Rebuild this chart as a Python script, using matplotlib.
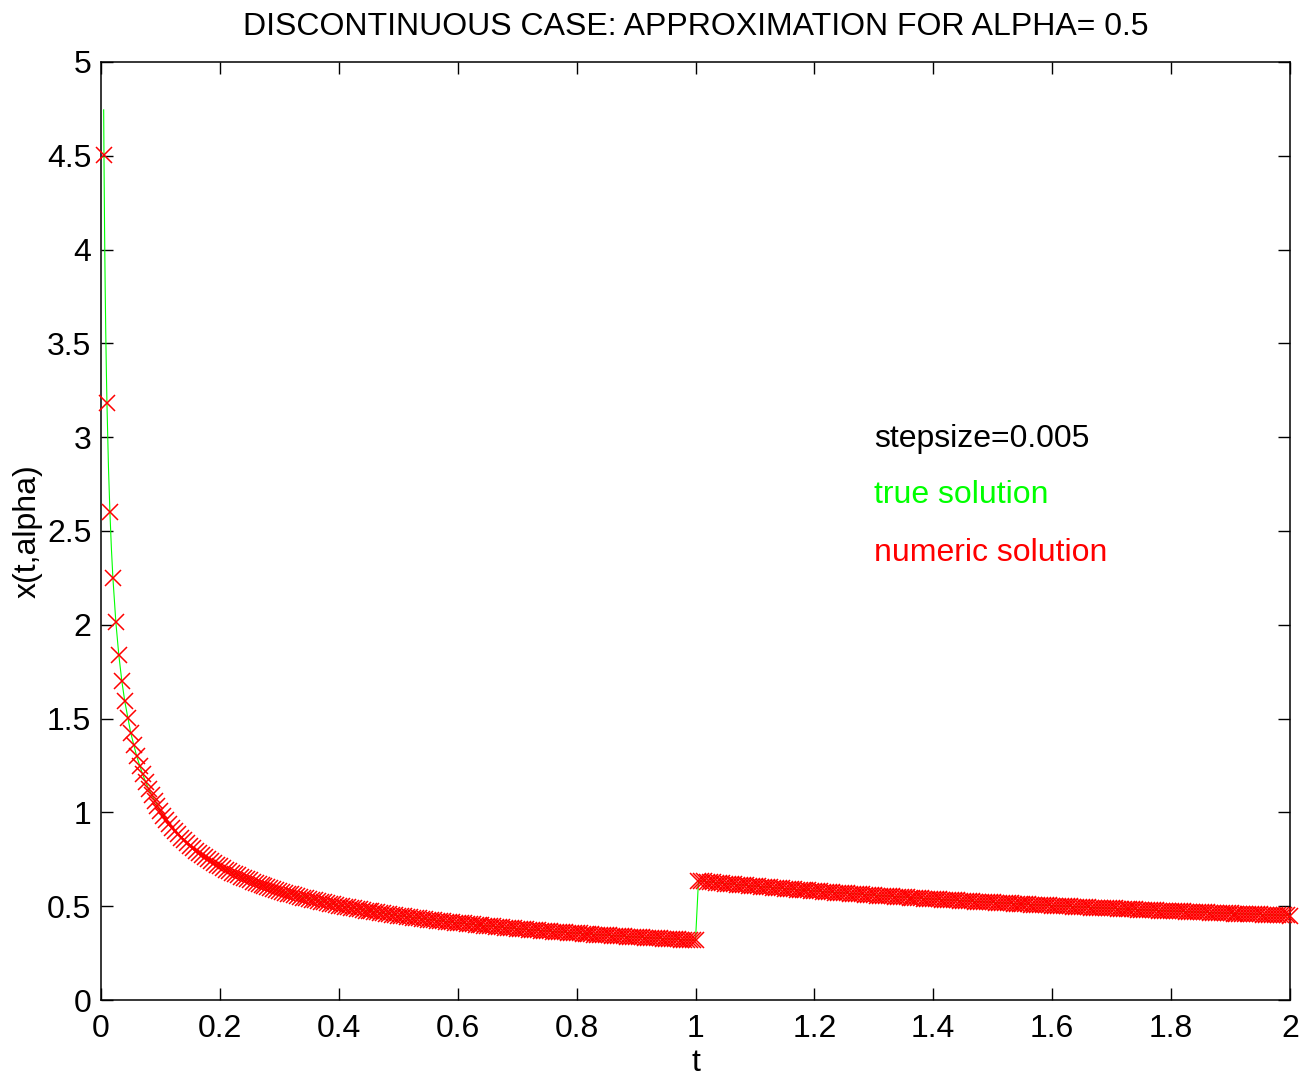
import numpy as np
import matplotlib
matplotlib.use("Agg")
import matplotlib.pyplot as plt

plt.rcParams['font.family'] = ['Liberation Sans', 'DejaVu Sans']

# ---- data ----
stepsize = 0.005
numeric_x = [
    4.502, 3.183, 2.599, 2.251, 2.013, 1.838, 1.701, 1.592, 1.501, 1.424,
    1.357, 1.300, 1.249, 1.203, 1.162, 1.125, 1.092, 1.061, 1.033, 1.007,
    0.982, 0.960, 0.939, 0.919, 0.900, 0.883, 0.866, 0.851, 0.836, 0.822,
    0.809, 0.796, 0.784, 0.772, 0.761, 0.750, 0.740, 0.730, 0.721, 0.712,
    0.703, 0.695, 0.686, 0.679, 0.671, 0.664, 0.657, 0.650, 0.643, 0.637,
    0.630, 0.624, 0.618, 0.613, 0.607, 0.602, 0.596, 0.591, 0.586, 0.581,
    0.576, 0.572, 0.567, 0.563, 0.558, 0.554, 0.550, 0.546, 0.542, 0.538,
    0.534, 0.531, 0.527, 0.523, 0.520, 0.516, 0.513, 0.510, 0.506, 0.503,
    0.500, 0.497, 0.494, 0.491, 0.488, 0.485, 0.483, 0.480, 0.477, 0.475,
    0.472, 0.469, 0.467, 0.464, 0.462, 0.459, 0.457, 0.455, 0.452, 0.450,
    0.448, 0.446, 0.444, 0.441, 0.439, 0.437, 0.435, 0.433, 0.431, 0.429,
    0.427, 0.425, 0.423, 0.422, 0.420, 0.418, 0.416, 0.414, 0.413, 0.411,
    0.409, 0.408, 0.406, 0.404, 0.403, 0.401, 0.399, 0.398, 0.396, 0.395,
    0.393, 0.392, 0.390, 0.389, 0.387, 0.386, 0.385, 0.383, 0.382, 0.380,
    0.379, 0.378, 0.376, 0.375, 0.374, 0.373, 0.371, 0.370, 0.369, 0.368,
    0.366, 0.365, 0.364, 0.363, 0.362, 0.360, 0.359, 0.358, 0.357, 0.356,
    0.355, 0.354, 0.353, 0.352, 0.350, 0.349, 0.348, 0.347, 0.346, 0.345,
    0.344, 0.343, 0.342, 0.341, 0.340, 0.339, 0.338, 0.337, 0.336, 0.336,
    0.335, 0.334, 0.333, 0.332, 0.331, 0.330, 0.329, 0.328, 0.327, 0.327,
    0.326, 0.325, 0.324, 0.323, 0.322, 0.322, 0.321, 0.320, 0.319, 0.318,
    0.635, 0.633, 0.632, 0.630, 0.629, 0.627, 0.626, 0.624, 0.623, 0.621,
    0.620, 0.618, 0.617, 0.615, 0.614, 0.613, 0.611, 0.610, 0.608, 0.607,
    0.606, 0.604, 0.603, 0.602, 0.600, 0.599, 0.598, 0.596, 0.595, 0.594,
    0.592, 0.591, 0.590, 0.589, 0.587, 0.586, 0.585, 0.584, 0.582, 0.581,
    0.580, 0.579, 0.578, 0.576, 0.575, 0.574, 0.573, 0.572, 0.571, 0.569,
    0.568, 0.567, 0.566, 0.565, 0.564, 0.563, 0.562, 0.561, 0.559, 0.558,
    0.557, 0.556, 0.555, 0.554, 0.553, 0.552, 0.551, 0.550, 0.549, 0.548,
    0.547, 0.546, 0.545, 0.544, 0.543, 0.542, 0.541, 0.540, 0.539, 0.538,
    0.537, 0.536, 0.535, 0.534, 0.533, 0.532, 0.531, 0.531, 0.530, 0.529,
    0.528, 0.527, 0.526, 0.525, 0.524, 0.523, 0.522, 0.522, 0.521, 0.520,
    0.519, 0.518, 0.517, 0.516, 0.516, 0.515, 0.514, 0.513, 0.512, 0.511,
    0.511, 0.510, 0.509, 0.508, 0.507, 0.506, 0.506, 0.505, 0.504, 0.503,
    0.503, 0.502, 0.501, 0.500, 0.499, 0.499, 0.498, 0.497, 0.496, 0.496,
    0.495, 0.494, 0.493, 0.493, 0.492, 0.491, 0.490, 0.490, 0.489, 0.488,
    0.488, 0.487, 0.486, 0.485, 0.485, 0.484, 0.483, 0.483, 0.482, 0.481,
    0.481, 0.480, 0.479, 0.479, 0.478, 0.477, 0.477, 0.476, 0.475, 0.475,
    0.474, 0.473, 0.473, 0.472, 0.471, 0.471, 0.470, 0.469, 0.469, 0.468,
    0.467, 0.467, 0.466, 0.466, 0.465, 0.464, 0.464, 0.463, 0.462, 0.462,
    0.461, 0.461, 0.460, 0.459, 0.459, 0.458, 0.458, 0.457, 0.456, 0.456,
    0.455, 0.455, 0.454, 0.454, 0.453, 0.452, 0.452, 0.451, 0.451, 0.450,
]
numeric_t = stepsize * np.arange(1, len(numeric_x) + 1)

true_t = [0.0045, 0.005, 0.006, 0.007, 0.008, 0.009, 0.01, 0.0125, 0.015,
          0.0175, 0.02, 0.025, 0.03, 0.035, 0.04, 0.05, 0.06, 0.07, 0.08,
          0.1, 0.12, 0.15, 0.2, 0.25, 0.3, 0.4, 0.5, 0.6, 0.7, 0.8, 0.9,
          1.0, 1.005, 1.1, 1.2, 1.4, 1.6, 1.8, 2.0]
true_x = [4.745, 4.502, 4.109, 3.804, 3.559, 3.355, 3.183, 2.847, 2.599,
          2.406, 2.251, 2.013, 1.838, 1.701, 1.592, 1.424, 1.300, 1.203,
          1.125, 1.007, 0.919, 0.822, 0.712, 0.637, 0.581, 0.503, 0.450,
          0.411, 0.380, 0.356, 0.336, 0.318, 0.635, 0.607, 0.581, 0.538,
          0.503, 0.474, 0.450]

xticks = [0, 0.2, 0.4, 0.6, 0.8, 1, 1.2, 1.4, 1.6, 1.8, 2]
xtick_labels = ['0', '0.2', '0.4', '0.6', '0.8', '1', '1.2', '1.4', '1.6', '1.8', '2']
yticks = [0, 0.5, 1, 1.5, 2, 2.5, 3, 3.5, 4, 4.5, 5]
ytick_labels = ['0', '0.5', '1', '1.5', '2', '2.5', '3', '3.5', '4', '4.5', '5']

title = 'DISCONTINUOUS CASE: APPROXIMATION FOR ALPHA= 0.5'
annotations = [('stepsize=0.005', 2.99, 'black'),
               ('true solution', 2.69, '#00ff00'),
               ('numeric solution', 2.385, '#ff0000')]

FS = 23
fig = plt.figure(figsize=(13.12, 10.78), dpi=100)
ax = fig.add_axes([101/1312, 1 - 1000/1078, 1189/1312, 938/1078])

ax.plot(true_t, true_x, color='#00ff00', linewidth=0.8, zorder=2)
ax.plot(numeric_t, numeric_x, linestyle='none', marker='x', color='#ff0000',
        markersize=11.5, markeredgewidth=1.1, clip_on=False, zorder=3)

ax.set_xlim(0, 2)
ax.set_ylim(0, 5)
ax.set_xticks(xticks)
ax.set_xticklabels(xtick_labels)
ax.set_yticks(yticks)
ax.set_yticklabels(ytick_labels)
ax.tick_params(direction='in', length=8.5, width=1.0, top=True, right=True,
               labelsize=FS, pad=7, colors='black')
ax.tick_params(axis='x', pad=10)
for s in ax.spines.values():
    s.set_linewidth(1.1)

ax.set_title(title, fontsize=FS, y=1.037, pad=0, va='center')
ax.set_xlabel('t', fontsize=FS, va='center')
ax.xaxis.set_label_coords(0.5, -0.067)
ax.set_ylabel('x(t,alpha)', fontsize=FS, va='center')
ax.yaxis.set_label_coords(-0.0614, 0.5)

for txt, yv, col in annotations:
    ax.text(1.3, yv, txt, color=col, fontsize=FS, va='center', ha='left')

fig.savefig('out.png', dpi=100)
